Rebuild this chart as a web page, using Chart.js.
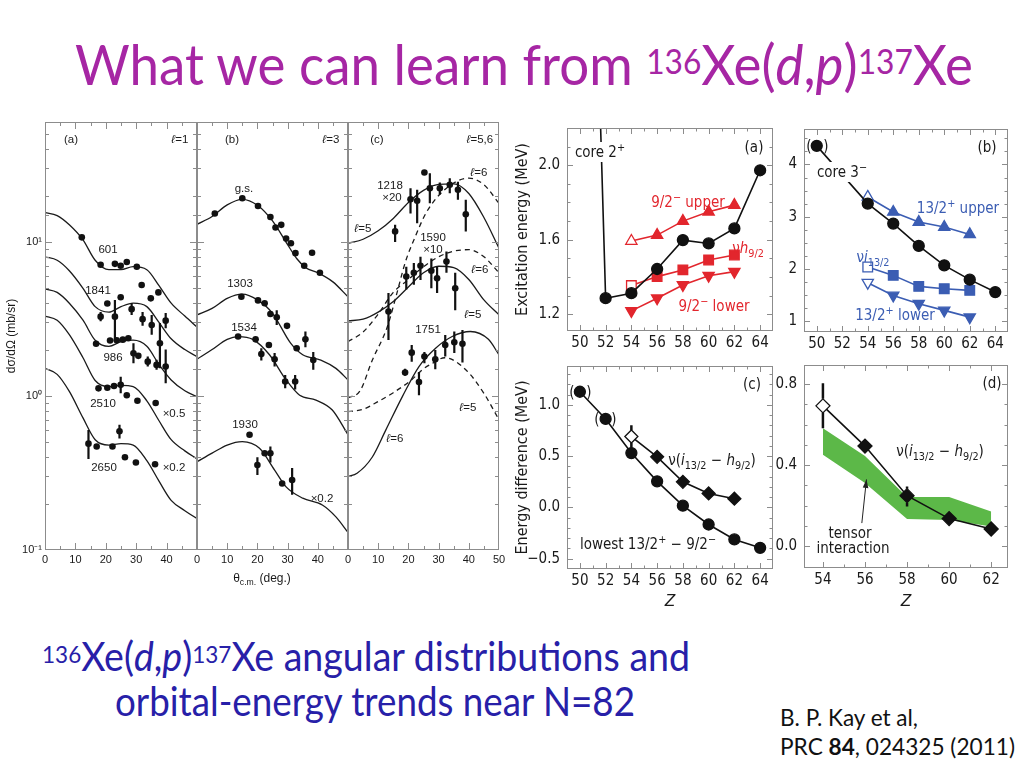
<!DOCTYPE html>
<html>
<head>
<meta charset="utf-8">
<title>136Xe(d,p)137Xe</title>
<script src="https://cdn.jsdelivr.net/npm/chart.js@4.4.1/dist/chart.umd.min.js"></script>
<style>
  html, body { margin: 0; padding: 0; background: #fff; }
  body { width: 1024px; height: 768px; position: relative; overflow: hidden; }
  canvas { position: absolute; z-index: 1; }
  .t { position: absolute; white-space: nowrap; line-height: 1; color: #1a1a1a; z-index: 2; }
  .c { transform: translate(-50%, -50%); }
  .L { font: 11.5px "Liberation Sans", Arial, sans-serif; }
  .R { font: 15px "Liberation Sans Narrow", "DejaVu Sans Condensed", "Liberation Sans", sans-serif; }
  .red { color: #e2262d; }
  .blue { color: #3b5db3; }
  .wb { background: #fff; padding: 1px 2px; }
  sup, sub { line-height: 0; }
  .R sup, .R sub, .L sub { font-size: 0.72em; }
  .slide { font-family: Lato, "Open Sans", sans-serif; transform-origin: left top; }
  .slide sup { font-size: 0.6em; vertical-align: 0.33em; }
</style>
</head>
<body>

<div class="t slide" style="left:75px;top:35px;font-size:57px;color:#a626a4" data-w="898">What we can learn from <sup>136</sup>Xe(<i>d</i>,<i>p</i>)<sup>137</sup>Xe</div>

<div class="t slide" style="left:42px;top:636px;font-size:40px;color:#2720a8" data-w="648"><sup>136</sup>Xe(<i>d</i>,<i>p</i>)<sup>137</sup>Xe angular distributions and</div>
<div class="t slide" style="left:115px;top:681px;font-size:40px;color:#2720a8" data-w="520">orbital-energy trends near N=82</div>
<div class="t slide" style="left:780px;top:706px;font-size:23px;color:#111" data-w="138">B. P. Kay et al,</div>
<div class="t slide" style="left:780px;top:735px;font-size:23px;color:#111" data-w="235">PRC <b>84</b>, 024325 (2011)</div>

<!-- left figure labels -->
<div class="t c L" style="left:71px;top:139px">(a)</div>
<div class="t c L" style="left:180px;top:139px"><i>ℓ</i>=1</div>
<div class="t c L" style="left:108px;top:249px">601</div>
<div class="t c L" style="left:98px;top:290px">1841</div>
<div class="t c L" style="left:113px;top:357px">986</div>
<div class="t c L" style="left:103px;top:403px">2510</div>
<div class="t c L" style="left:174px;top:413px">×0.5</div>
<div class="t c L" style="left:104px;top:467px">2650</div>
<div class="t c L" style="left:174px;top:467px">×0.2</div>

<div class="t c L" style="left:232px;top:139px">(b)</div>
<div class="t c L" style="left:331px;top:139px"><i>ℓ</i>=3</div>
<div class="t c L" style="left:244px;top:188px">g.s.</div>
<div class="t c L" style="left:240px;top:283px">1303</div>
<div class="t c L" style="left:244px;top:327px">1534</div>
<div class="t c L" style="left:245px;top:424px">1930</div>
<div class="t c L" style="left:322px;top:498px">×0.2</div>
<div class="t c L" style="left:262px;top:578px;font-size:12px">θ<sub>c.m.</sub> (deg.)</div>

<div class="t c L" style="left:377px;top:139px">(c)</div>
<div class="t c L" style="left:480px;top:139px"><i>ℓ</i>=5,6</div>
<div class="t c L" style="left:390px;top:185px">1218</div>
<div class="t c L" style="left:392px;top:197px">×20</div>
<div class="t c L" style="left:479px;top:172px"><i>ℓ</i>=6</div>
<div class="t c L" style="left:363px;top:228px"><i>ℓ</i>=5</div>
<div class="t c L" style="left:433px;top:237px">1590</div>
<div class="t c L" style="left:433px;top:249px">×10</div>
<div class="t c L" style="left:480px;top:269px"><i>ℓ</i>=6</div>
<div class="t c L" style="left:473px;top:314px"><i>ℓ</i>=5</div>
<div class="t c L" style="left:428px;top:329px">1751</div>
<div class="t c L" style="left:468px;top:407px"><i>ℓ</i>=5</div>
<div class="t c L" style="left:395px;top:438px"><i>ℓ</i>=6</div>

<!-- right figure labels -->
<div class="t c R wb" style="left:600px;top:152px">core 2<sup>+</sup></div>
<div class="t c R" style="left:754px;top:147px">(a)</div>
<div class="t c R red" style="left:688px;top:202px">9/2<sup>−</sup> upper</div>
<div class="t c R red" style="left:748px;top:248px">ν<i>h</i><sub>9/2</sub></div>
<div class="t c R red" style="left:714px;top:306px">9/2<sup>−</sup> lower</div>

<div class="t c R wb" style="left:842px;top:172px">core 3<sup>−</sup></div>
<div class="t c R" style="left:987px;top:147px">(b)</div>
<div class="t c R blue" style="left:958px;top:208px">13/2<sup>+</sup> upper</div>
<div class="t c R blue" style="left:873px;top:257px">ν<i>i</i><sub>13/2</sub></div>
<div class="t c R blue" style="left:895px;top:315px">13/2<sup>+</sup> lower</div>
<div class="t c R" style="left:809px;top:146px">(</div>
<div class="t c R" style="left:826px;top:146px">)</div>

<div class="t c R" style="left:752px;top:384px">(c)</div>
<div class="t c R" style="left:712px;top:460px">ν(<i>i</i><sub>13/2</sub> − <i>h</i><sub>9/2</sub>)</div>
<div class="t c R" style="left:648px;top:544px">lowest 13/2<sup>+</sup> − 9/2<sup>−</sup></div>
<div class="t c R" style="left:572px;top:392px">(</div>
<div class="t c R" style="left:589px;top:392px">)</div>
<div class="t c R" style="left:597px;top:419px">(</div>
<div class="t c R" style="left:614px;top:419px">)</div>

<div class="t c R" style="left:992px;top:383px">(d)</div>
<div class="t c R" style="left:940px;top:451px">ν(<i>i</i><sub>13/2</sub> − <i>h</i><sub>9/2</sub>)</div>
<div class="t c R" style="left:850px;top:533px">tensor</div>
<div class="t c R" style="left:853px;top:548px">interaction</div>

<script>
// ---- angular distributions, panel (a) l=1 ----
const angA = [0, 4, 8, 12.5, 16.5, 21, 25, 29, 33.5, 37.5, 41.5, 46, 50];
const fit601 = [15.5, 14.8, 12.9, 10.3, 7.6, 6.6, 6.6, 6.9, 6.6, 5.2, 4.0, 3.3, 2.8];
const fit1841 = [8.0, 7.6, 6.5, 5.0, 3.8, 3.5, 3.8, 4.0, 3.8, 3.0, 2.35, 2.0, 1.8];
const fit986 = [4.95, 4.7, 4.0, 3.1, 2.3, 2.1, 2.25, 2.3, 2.1, 1.6, 1.27, 1.08, 0.99];
const fit2510 = [3.3, 3.1, 2.5, 1.77, 1.26, 1.15, 1.17, 1.15, 0.93, 0.69, 0.52, 0.44, 0.39];
const fit2650 = [1.51, 1.38, 1.07, 0.72, 0.52, 0.48, 0.49, 0.48, 0.38, 0.28, 0.21, 0.18, 0.16];

const ang601 = [12.1, 18.3, 23.0, 24.9, 26.9, 30.2, 31.8, 34.8, 37.3];
const xs601 = [10.7, 7.1, 7.2, 7.0, 7.4, 6.9, 5.25, 4.3, 4.7];
const ang1841 = [18.3, 20.5, 23.0, 24.9, 28.5, 32.1, 35.1, 39.7];
const xs1841 = [3.27, 3.98, 3.27, 4.37, 3.66, 3.15, 2.89, 3.08];
const lo1841 = [3.05, null, 2.31, null, 3.35, 2.85, 2.5, 2.75];
const hi1841 = [3.5, null, 4.2, null, 4.0, 3.5, 3.35, 3.45];
const ang986 = [16.8, 21.4, 23.6, 25.6, 27.4, 29.1, 30.7, 33.8, 36.7, 37.8, 39.7];
const xs986 = [2.18, 2.29, 2.3, 2.32, 2.37, 1.89, 1.82, 1.67, 1.59, 2.2, 1.55];
const lo986 = [null, null, null, null, null, 1.63, null, 1.55, 1.48, 1.51, 1.21];
const hi986 = [null, null, null, null, null, 2.2, null, 1.8, 1.72, 2.97, 2.0];
const ang2510 = [17.6, 20.5, 22.7, 24.9, 26.9, 30.4, 36.4];
const xs2510 = [1.12, 1.13, 1.16, 1.18, 1.01, 0.93, 0.90];
const lo2510 = [null, null, null, 1.04, null, null, null];
const hi2510 = [null, null, null, 1.33, null, null, null];
const ang2650 = [14.3, 17.0, 22.2, 24.5, 26.3, 29.9, 36.2];
const xs2650 = [0.49, 0.47, 0.47, 0.59, 0.40, 0.37, 0.36];
const lo2650 = [0.39, null, null, 0.53, null, null, null];
const hi2650 = [0.60, null, null, 0.65, null, null, null];

// ---- panel (b) l=3 ----
const angGsF = [0, 5, 10, 15, 20, 25, 30, 33, 36, 40, 45, 50];
const fitGs = [13.0, 14.6, 17.4, 18.9, 17.3, 13.7, 9.6, 7.8, 6.8, 6.3, 5.5, 4.4];
const ang1303F = [0, 5, 10, 15, 20, 25, 31, 35, 41, 46, 50];
const fit1303 = [3.36, 3.7, 4.3, 4.58, 4.2, 3.44, 2.2, 1.85, 1.71, 1.51, 1.27];
const ang1534F = [0, 5, 10, 13.6, 18.5, 24, 29.5, 34, 39.4, 44.8, 50];
const fit1534 = [1.73, 2.0, 2.33, 2.43, 2.33, 1.85, 1.27, 1.01, 0.94, 0.81, 0.56];
const ang1930F = [0, 5, 10, 15, 20.7, 25.7, 29.5, 35, 41.5, 46, 50];
const fit1930 = [0.374, 0.425, 0.48, 0.505, 0.457, 0.33, 0.257, 0.217, 0.196, 0.164, 0.13];

const angGs = [5.9, 15.0, 20.2, 24.3, 26.0, 27.9, 29.5, 31.1, 32.6, 35.5, 38.1, 40.7];
const xsGs = [15.3, 19.2, 17.1, 14.5, 12.4, 12.9, 10.5, 9.8, 8.45, 7.0, 8.5, 6.3];
const ang1303 = [14.7, 20.2, 22.4, 24.3, 26.4, 29.8, 33.0, 35.9, 38.5];
const xs1303 = [4.4, 4.17, 4.0, 3.4, 3.24, 2.85, 2.04, 2.33, 1.71];
const lo1303 = [null, null, null, null, 2.89, null, null, 2.07, 1.48];
const hi1303 = [null, null, null, null, 3.6, null, null, 2.62, 1.93];
const ang1534 = [13.6, 19.4, 21.3, 23.8, 25.7, 29.2, 32.5];
const xs1534 = [2.43, 2.33, 1.87, 2.14, 1.73, 1.24, 1.24];
const lo1534 = [null, null, 1.70, null, 1.55, 1.12, 1.1];
const hi1534 = [null, null, 2.04, null, 1.9, 1.37, 1.37];
const ang1930 = [17.4, 20.0, 22.4, 24.3, 28.2, 31.5];
const xs1930 = [0.56, 0.356, 0.425, 0.425, 0.27, 0.285];
const lo1930 = [null, 0.307, null, 0.37, null, 0.228];
const hi1930 = [null, 0.40, null, 0.47, null, 0.34];

// ---- panel (c) l=5,6 ----
const angC = [0, 5, 10, 15, 20, 25, 30, 35, 40, 45, 50];
const fit1218l5 = [9.8, 10.4, 11.8, 14.2, 18.0, 21.6, 23.6, 23.8, 20.6, 14.4, 9.1];
const ang1218l6 = [0, 4, 8, 13, 16, 19, 22, 26, 32, 40, 45, 50];
const fit1218l6 = [0.97, 1.08, 1.7, 2.8, 4.5, 7.4, 10.5, 15.6, 21.8, 25.9, 23.5, 17.8];
const fit1590l5 = [3.07, 3.15, 3.5, 4.1, 5.1, 6.3, 6.95, 6.8, 5.7, 4.2, 3.36];
const fit1590l6 = [2.25, 2.6, 3.4, 4.7, 5.7, 6.9, 8.0, 8.7, 8.9, 8.0, 6.3];
const ang1751l6 = [0, 3, 8, 12.5, 18, 23.5, 29, 34.5, 40.5, 46.5, 50];
const fit1751l6 = [0.30, 0.315, 0.40, 0.60, 0.99, 1.55, 2.04, 2.43, 2.62, 2.33, 1.85];
const ang1751l5 = [0, 5, 10, 15, 21, 25, 28, 32, 39, 45, 50];
const fit1751l5 = [0.79, 0.82, 0.92, 1.05, 1.27, 1.5, 1.63, 1.77, 1.48, 1.04, 0.70];

const ang1218 = [15.6, 20.7, 22.9, 25.3, 27.1, 30.4, 33.7, 36.4, 39.0];
const xs1218 = [11.7, 18.9, 18.5, 28.2, 22.3, 22.3, 23.5, 21.8, 15.1];
const lo1218 = [10.0, 15.3, 13.2, null, 17.8, 20.3, 20.7, 18.8, 11.7];
const hi1218 = [12.9, 22.3, 21.8, null, 27.9, 24.3, 25.9, 24.6, 18.8];
const ang1590 = [13.4, 19.3, 21.8, 24.0, 27.6, 29.5, 32.6, 35.5];
const xs1590 = [3.53, 5.96, 6.3, 7.0, 6.5, 5.8, 7.45, 5.0];
const lo1590 = [2.31, 4.9, 5.26, 5.66, 5.0, 4.65, 6.3, 3.6];
const hi1590 = [4.65, 6.9, 7.3, 8.0, 7.8, 6.9, 8.65, 6.3];
const ang1751 = [18.9, 21.1, 23.5, 25.3, 28.9, 32.2, 35.2, 37.9];
const xs1751 = [1.42, 1.91, 1.23, 1.8, 1.73, 2.14, 2.23, 2.18];
const lo1751 = [1.35, 1.67, 1.01, 1.63, 1.49, 1.8, 1.9, 1.65];
const hi1751 = [1.5, 2.14, 1.43, 1.93, 1.99, 2.49, 2.62, 2.68];

// ---- systematics vs Z ----
const zCore2 = [50, 52, 54, 56, 58, 60, 62, 64];
const eCore2 = [6.0, 1.286, 1.313, 1.443, 1.598, 1.58, 1.661, 1.973];
const zOdd = [54, 56, 58, 60, 62];
const eH92Upper = [1.593, 1.625, 1.70, 1.75, 1.786];
const eH92 = [1.354, 1.402, 1.438, 1.491, 1.518];
const eH92Lower = [1.218, 1.286, 1.357, 1.407, 1.429];

const zCore3 = [50, 54, 56, 58, 60, 62, 64];
const eCore3 = [4.357, 3.25, 2.867, 2.44, 2.067, 1.793, 1.555];
const eI132Upper = [3.378, 3.09, 2.898, 2.802, 2.66];
const eI132 = [2.035, 1.875, 1.664, 1.62, 1.587];
const loI132 = [1.95, null, null, null, null];
const hiI132 = [2.13, null, null, null, null];
const eI132Lower = [1.735, 1.491, 1.332, 1.204, 1.075];

const zAll = [50, 52, 54, 56, 58, 60, 62, 64];
const dLowest = [1.129, 0.864, 0.531, 0.255, 0.018, -0.166, -0.312, -0.393];
const dIH = [0.692, 0.494, 0.25, 0.137, 0.086];
const loIH = [0.582, null, 0.197, null, null];
const hiIH = [0.803, null, 0.295, null, null];

const tensorZ = [54, 56, 58, 60, 62];
const tensorHi = [0.582, 0.445, 0.243, 0.243, 0.172];
const tensorLo = [0.451, 0.312, 0.135, 0.13, 0.098];

const RED = '#e2262d', BLUE = '#3b5db3', BLK = '#111111', GREEN = '#5cb848';
const FRAME = '#8c8c8c';
const fL = { family: '"Liberation Sans", Arial, sans-serif', size: 11 };
const fLt = { family: '"Liberation Sans", Arial, sans-serif', size: 12 };
const fR = { family: '"Liberation Sans Narrow", "DejaVu Sans Condensed", "Liberation Sans", sans-serif', size: 15 };
const fRt = { family: '"Liberation Sans Narrow", "DejaVu Sans Condensed", "Liberation Sans", sans-serif', size: 16 };
const fZ = { family: '"Liberation Sans", Arial, sans-serif', size: 17, style: 'italic' };

const pts = (xs, ys) => xs.map((x, i) => ({ x, y: ys[i] }));
const near = (v, s) => Math.abs(v / s - Math.round(v / s)) < 1e-6;
const fmt1 = v => (Math.abs(v) < 1e-9 ? 0 : v).toFixed(1).replace('-', '\u2212');
const supNum = { '-1': '⁻¹', '0': '⁰', '1': '¹' };

// frame with inward ticks on all four sides
const frameTicks = {
  id: 'frameTicks',
  afterDatasetsDraw(chart, args, o) {
    const { ctx, chartArea: a } = chart;
    const x = chart.scales.x, y = chart.scales.y;
    ctx.save();
    ctx.strokeStyle = o.color;
    ctx.lineWidth = 1;
    ctx.beginPath();
    x.ticks.forEach(t => {
      const p = Math.round(x.getPixelForValue(t.value)) + 0.5;
      if (p < a.left + 1.5 || p > a.right - 1.5) return;
      const len = near(t.value, o.xStep) ? o.major : o.minor;
      ctx.moveTo(p, a.bottom); ctx.lineTo(p, a.bottom - len);
      ctx.moveTo(p, a.top); ctx.lineTo(p, a.top + len);
    });
    y.ticks.forEach(t => {
      const p = Math.round(y.getPixelForValue(t.value)) + 0.5;
      if (p < a.top + 1.5 || p > a.bottom - 1.5) return;
      const major = o.yLog ? near(Math.log10(t.value), 1) : near(t.value, o.yStep);
      const len = major ? o.major : o.minor;
      ctx.moveTo(a.left, p); ctx.lineTo(a.left + len, p);
      ctx.moveTo(a.right, p); ctx.lineTo(a.right - len, p);
    });
    ctx.stroke();
    ctx.strokeRect(Math.round(a.left) + 0.5, Math.round(a.top) + 0.5,
      Math.round(a.right - a.left) - 1, Math.round(a.bottom - a.top) - 1);
    ctx.restore();
  }
};

// vertical error bars, read from errLo / errHi on each dataset
const errBars = {
  id: 'errBars',
  afterDatasetsDraw(chart) {
    const { ctx } = chart, x = chart.scales.x, y = chart.scales.y;
    ctx.save();
    ctx.strokeStyle = '#111';
    chart.data.datasets.forEach(ds => {
      if (!ds.errLo) return;
      ctx.lineWidth = ds.errWidth || 2;
      const g = ds.errGap || 0;
      ds.data.forEach((d, i) => {
        const lo = ds.errLo[i], hi = ds.errHi[i];
        if (lo == null) return;
        const px = x.getPixelForValue(d.x), py = y.getPixelForValue(d.y);
        const pl = y.getPixelForValue(lo), ph = y.getPixelForValue(hi);
        ctx.beginPath();
        if (pl > py + g) { ctx.moveTo(px, pl); ctx.lineTo(px, py + g); }
        if (ph < py - g) { ctx.moveTo(px, ph); ctx.lineTo(px, py - g); }
        ctx.stroke();
      });
    });
    ctx.restore();
  }
};

// pointer arrow (tensor interaction)
const arrowPlug = {
  id: 'arrowPlug',
  afterDatasetsDraw(chart, args, o) {
    if (!o.from) return;
    const { ctx } = chart, x = chart.scales.x, y = chart.scales.y;
    const x0 = x.getPixelForValue(o.from[0]), y0 = y.getPixelForValue(o.from[1]);
    const x1 = x.getPixelForValue(o.to[0]), y1 = y.getPixelForValue(o.to[1]);
    const ang = Math.atan2(y1 - y0, x1 - x0);
    ctx.save();
    ctx.strokeStyle = '#222'; ctx.fillStyle = '#222'; ctx.lineWidth = 1;
    ctx.beginPath(); ctx.moveTo(x0, y0); ctx.lineTo(x1, y1); ctx.stroke();
    ctx.beginPath();
    ctx.moveTo(x1, y1);
    ctx.lineTo(x1 - 9 * Math.cos(ang - 0.32), y1 - 9 * Math.sin(ang - 0.32));
    ctx.lineTo(x1 - 9 * Math.cos(ang + 0.32), y1 - 9 * Math.sin(ang + 0.32));
    ctx.closePath(); ctx.fill();
    ctx.restore();
  }
};

function ax(min, max, step, cb, font, more) {
  return Object.assign({
    type: 'linear', min, max,
    grid: { display: false, drawTicks: false },
    border: { display: false },
    ticks: { stepSize: step, autoSkip: false, includeBounds: false, maxRotation: 0,
      padding: 5, color: '#1a1a1a', font, callback: cb }
  }, more || {});
}

function build(box, area, scales, datasets, frame, extra) {
  const cv = document.createElement('canvas');
  cv.width = box.w; cv.height = box.h;
  cv.style.left = box.x + 'px'; cv.style.top = box.y + 'px';
  document.body.appendChild(cv);
  const hx = box.y + box.h - area.b;
  const pad = { top: area.t - box.y, right: box.x + box.w - area.r, bottom: 0, left: 0 };
  scales.x.afterFit = s => { s.height = hx; s.paddingLeft = 0; s.paddingRight = 0; };
  if (scales.y.display === false) {
    pad.left = area.l - box.x;
  } else {
    const wy = area.l - box.x;
    scales.y.afterFit = s => { s.width = wy; s.paddingTop = 0; s.paddingBottom = 0; };
  }
  return new Chart(cv, {
    type: 'line',
    data: { datasets },
    options: {
      responsive: false, animation: false, events: [],
      layout: { padding: pad, autoPadding: false },
      scales,
      plugins: { legend: { display: false }, tooltip: { enabled: false },
        frameTicks: frame, arrowPlug: extra || {} }
    },
    plugins: [frameTicks, errBars, arrowPlug]
  });
}

// left figure helpers
const curve = (xs, ys, dash) => ({
  data: pts(xs, ys), borderColor: '#1b1b1b', borderWidth: 1.3, pointRadius: 0,
  cubicInterpolationMode: 'monotone', borderDash: dash ? [5, 4] : [], fill: false
});
const dots = (xs, ys, lo, hi) => ({
  data: pts(xs, ys), showLine: false, pointRadius: 3.3, pointBackgroundColor: '#111',
  pointBorderWidth: 0, errLo: lo || null, errHi: hi || null, errWidth: 2.2
});
function angX(maxLab) {
  return ax(0, 50, 5, v => (near(v, 10) && v <= maxLab) ? String(v) : '', fL,
    { ticks: { stepSize: 5, autoSkip: false, maxRotation: 0, padding: 3, color: '#1a1a1a', font: fL,
      callback: v => (near(v, 10) && v <= maxLab) ? String(v) : '' } });
}
function logY(show) {
  return {
    type: 'logarithmic', min: 0.1, max: 60, display: show,
    grid: { display: false, drawTicks: false }, border: { display: false },
    ticks: { autoSkip: false, padding: 3, color: '#1a1a1a', font: fL,
      callback: v => { const e = Math.log10(v); return near(e, 1) ? '10' + (supNum[Math.round(e)] || '') : ''; } },
    title: { display: show, text: 'dσ/dΩ (mb/sr)', color: '#1a1a1a', font: fLt, padding: { top: 4, bottom: 0 } }
  };
}
const leftFrame = { color: FRAME, major: 7, minor: 4, xStep: 10, yLog: true };

build({ x: 0, y: 110, w: 200, h: 480 }, { l: 45, t: 122, r: 197, b: 550 },
  { x: angX(40), y: logY(true) },
  [
    dots(ang601, xs601), dots(ang1841, xs1841, lo1841, hi1841), dots(ang986, xs986, lo986, hi986),
    dots(ang2510, xs2510, lo2510, hi2510), dots(ang2650, xs2650, lo2650, hi2650),
    curve(angA, fit601), curve(angA, fit1841), curve(angA, fit986), curve(angA, fit2510), curve(angA, fit2650)
  ], leftFrame);

build({ x: 190, y: 110, w: 165, h: 480 }, { l: 197, t: 122, r: 348, b: 550 },
  { x: angX(40), y: logY(false) },
  [
    dots(angGs, xsGs), dots(ang1303, xs1303, lo1303, hi1303), dots(ang1534, xs1534, lo1534, hi1534),
    dots(ang1930, xs1930, lo1930, hi1930),
    curve(angGsF, fitGs), curve(ang1303F, fit1303), curve(ang1534F, fit1534), curve(ang1930F, fit1930)
  ], leftFrame);

build({ x: 340, y: 110, w: 172, h: 480 }, { l: 348, t: 122, r: 499, b: 550 },
  { x: angX(50), y: logY(false) },
  [
    dots(ang1218, xs1218, lo1218, hi1218), dots(ang1590, xs1590, lo1590, hi1590), dots(ang1751, xs1751, lo1751, hi1751),
    curve(angC, fit1218l5), curve(ang1218l6, fit1218l6, true),
    curve(angC, fit1590l5), curve(angC, fit1590l6, true),
    curve(ang1751l6, fit1751l6), curve(ang1751l5, fit1751l5, true)
  ], leftFrame);

// right figure helpers
function series(xs, ys, color, style, r, open, rot) {
  return {
    data: pts(xs, ys), borderColor: color, borderWidth: 1.6, tension: 0,
    pointStyle: style, pointRadius: r, pointRotation: rot || 0,
    pointBorderColor: color, pointBorderWidth: 1.3,
    pointBackgroundColor: ys.map((_, i) => (open && i === 0) ? '#fff' : color)
  };
}
const zX = (min, max) => ax(min, max, 1, v => near(v, 2) ? String(v) : '', fR,
  { ticks: { stepSize: 1, autoSkip: false, includeBounds: false, maxRotation: 0, padding: 3, color: '#1a1a1a', font: fR,
    callback: v => near(v, 2) ? String(v) : '' } });
const zTitle = { display: true, text: 'Z', color: '#1a1a1a', font: fZ, padding: { top: 0, bottom: 4 } };
const yTitle = text => ({ display: true, text, color: '#1a1a1a', font: fRt, padding: { top: 8, bottom: 0 } });
const rFrame = (yStep) => ({ color: FRAME, major: 6, minor: 3.5, xStep: 2, yStep });

// (a) excitation energies, 9/2- states
build({ x: 505, y: 115, w: 280, h: 245 }, { l: 567, t: 128, r: 773, b: 331 },
  {
    x: zX(49, 65),
    y: ax(1.11, 2.2, 0.1, v => near(v, 0.4) ? fmt1(v) : '', fR,
      { ticks: { stepSize: 0.1, autoSkip: false, includeBounds: false, padding: 7, color: '#1a1a1a', font: fR,
        callback: v => near(v, 0.4) ? fmt1(v) : '' }, title: yTitle('Excitation energy (MeV)') })
  },
  [
    series(zCore2, eCore2, BLK, 'circle', 5.5, false),
    series(zOdd, eH92Upper, RED, 'triangle', 6.5, true),
    series(zOdd, eH92, RED, 'rect', 6.8, true),
    series(zOdd, eH92Lower, RED, 'triangle', 6.5, false, 180)
  ], rFrame(0.4));

// (b) excitation energies, 13/2+ states
const i132 = series(zOdd, eI132, BLUE, 'rect', 6.8, true);
i132.errLo = loI132; i132.errHi = hiI132; i132.errWidth = 2; i132.errGap = 5;
build({ x: 770, y: 115, w: 252, h: 245 }, { l: 804, t: 129, r: 1008, b: 332 },
  {
    x: zX(49, 65),
    y: ax(0.79, 4.68, 0.25, v => near(v, 1) ? String(Math.round(v)) : '', fR,
      { ticks: { stepSize: 0.25, autoSkip: false, includeBounds: false, padding: 7, color: '#1a1a1a', font: fR,
        callback: v => near(v, 1) ? String(Math.round(v)) : '' } })
  },
  [
    series(zCore3, eCore3, BLK, 'circle', 5.5, false),
    series(zOdd, eI132Upper, BLUE, 'triangle', 6.5, true),
    i132,
    series(zOdd, eI132Lower, BLUE, 'triangle', 6.5, true, 180)
  ], rFrame(1));

// (c) energy differences
const ihC = series(zOdd, dIH, BLK, 'rectRot', 6.5, true);
ihC.errLo = loIH; ihC.errHi = hiIH; ihC.errWidth = 2.5; ihC.errGap = 6.5;
build({ x: 505, y: 355, w: 280, h: 260 }, { l: 567, t: 366, r: 773, b: 569 },
  {
    x: Object.assign(zX(49, 65), { title: zTitle }),
    y: ax(-0.6, 1.38, 0.1, v => near(v, 0.5) ? fmt1(v) : '', fR,
      { ticks: { stepSize: 0.1, autoSkip: false, includeBounds: false, padding: 7, color: '#1a1a1a', font: fR,
        callback: v => near(v, 0.5) ? fmt1(v) : '' }, title: yTitle('Energy difference (MeV)') })
  },
  [
    ihC,
    series(zAll, dLowest, BLK, 'circle', 5.5, false)
  ], rFrame(0.5));

// (d) i13/2 - h9/2 with tensor band
const ihD = series(zOdd, dIH, BLK, 'rectRot', 7, true);
ihD.errLo = loIH; ihD.errHi = hiIH; ihD.errWidth = 2.5; ihD.errGap = 7;
build({ x: 770, y: 355, w: 252, h: 260 }, { l: 804, t: 365, r: 1008, b: 568 },
  {
    x: Object.assign(zX(53.1, 62.8), { title: zTitle }),
    y: ax(-0.106, 0.893, 0.1, v => near(v, 0.4) ? fmt1(v) : '', fR,
      { ticks: { stepSize: 0.1, autoSkip: false, includeBounds: false, padding: 7, color: '#1a1a1a', font: fR,
        callback: v => near(v, 0.4) ? fmt1(v) : '' } })
  },
  [
    ihD,
    { data: pts(tensorZ, tensorHi), borderWidth: 0, pointRadius: 0, tension: 0, fill: '+1', backgroundColor: GREEN },
    { data: pts(tensorZ, tensorLo), borderWidth: 0, pointRadius: 0, tension: 0, fill: false }
  ], rFrame(0.4), { from: [55.85, 0.115], to: [56.07, 0.33] });

// squeeze slide texts to the widths they have on the original slide
document.querySelectorAll('[data-w]').forEach(el => {
  const w = el.getBoundingClientRect().width;
  el.style.transform = 'scaleX(' + (+el.dataset.w / w).toFixed(4) + ')';
});
</script>
</body>
</html>
